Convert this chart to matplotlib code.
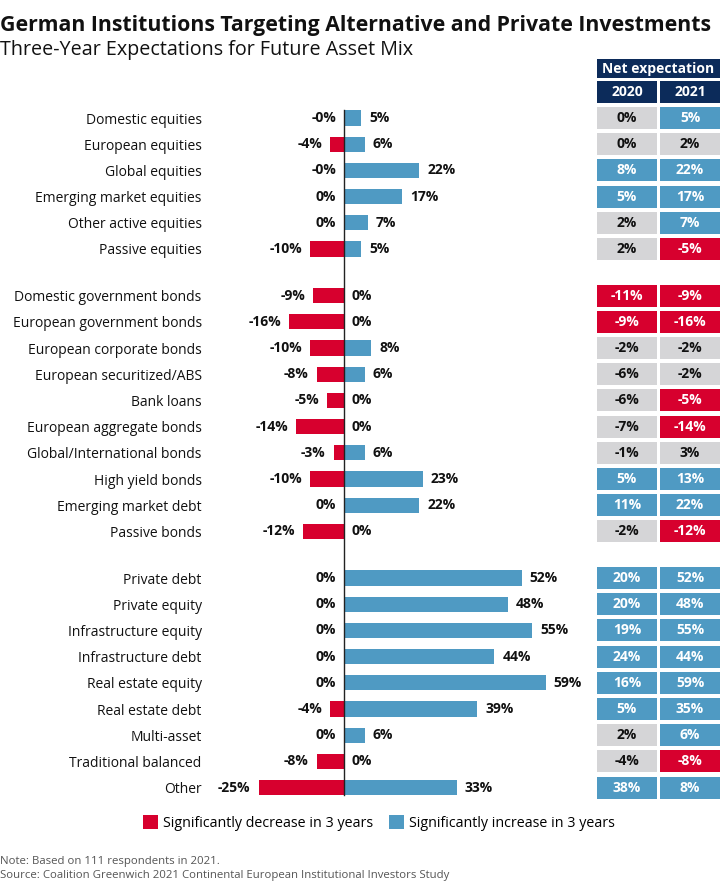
import matplotlib
matplotlib.use("Agg")
import matplotlib.pyplot as plt
from matplotlib.patches import Rectangle, Patch

plt.rcParams['font.family'] = ['Open Sans', 'DejaVu Sans']

# ---------------- data ----------------
groups = [
    ["Domestic equities", "European equities", "Global equities",
     "Emerging market equities", "Other active equities", "Passive equities"],
    ["Domestic government bonds", "European government bonds", "European corporate bonds",
     "European securitized/ABS", "Bank loans", "European aggregate bonds",
     "Global/International bonds", "High yield bonds", "Emerging market debt", "Passive bonds"],
    ["Private debt", "Private equity", "Infrastructure equity", "Infrastructure debt",
     "Real estate equity", "Real estate debt", "Multi-asset", "Traditional balanced", "Other"],
]
decrease = [-0.0, -4, -0.0, 0, 0, -10,
            -9, -16, -10, -8, -5, -14, -3, -10, 0, -12,
            0, 0, 0, 0, 0, -4, 0, -8, -25]
increase = [5, 6, 22, 17, 7, 5,
            0, 0, 8, 6, 0, 0, 6, 23, 22, 0,
            52, 48, 55, 44, 59, 39, 6, 0, 33]
net_2020 = [0, 0, 8, 5, 2, 2,
            -11, -9, -2, -6, -6, -7, -1, 5, 11, -2,
            20, 20, 19, 24, 16, 5, 2, -4, 38]
net_2021 = [5, 2, 22, 17, 7, -5,
            -9, -16, -2, -2, -5, -14, 3, 13, 22, -12,
            52, 48, 55, 44, 59, 35, 6, -8, 8]
years = ["2020", "2021"]

title = "German Institutions Targeting Alternative and Private Investments"
subtitle = "Three-Year Expectations for Future Asset Mix"
legend_labels = ["Significantly decrease in 3 years", "Significantly increase in 3 years"]
note = "Note: Based on 111 respondents in 2021."
source = "Source: Coalition Greenwich 2021 Continental European Institutional Investors Study"

# ---------------- style ----------------
RED = "#D7002E"
BLUE = "#4F9AC3"
GRAY = "#D5D5D7"
NAVY = "#0C2B5A"
W, H = 720, 892
ROW_PX = 26.2
Y0_PX = 118
GROUP_GAP = 0.78

# y positions (row units)
ypos, labels = [], []
y = 0.0
for gi, g in enumerate(groups):
    if gi > 0:
        y += GROUP_GAP
    for c in g:
        ypos.append(y)
        labels.append(c)
        y += 1
last = ypos[-1]

fig = plt.figure(figsize=(W / 100, H / 100), dpi=100)

def fy(px):
    return 1 - px / H

# ---- bar axes ----
bar_top, bar_bot = 105, 800
axb = fig.add_axes([210 / W, fy(bar_bot), (580 - 210) / W, (bar_bot - bar_top) / H])
px_per = 3.42
axb.set_xlim(-(344 - 210) / px_per, (580 - 344) / px_per)
axb.set_ylim(last + (bar_bot - (Y0_PX + last * ROW_PX)) / ROW_PX, -(Y0_PX - bar_top) / ROW_PX)
bh = 0.58
axb.barh(ypos, decrease, height=bh, color=RED, edgecolor='none')
axb.barh(ypos, increase, height=bh, color=BLUE, edgecolor='none')
axb.axvline(0, color="#222222", lw=1.0, ymin=0.007, ymax=0.993)
off = 8 / px_per
for yy, d, i in zip(ypos, decrease, increase):
    axb.text(min(d, 0) - off, yy, f"{d:.0f}%", ha='right', va='center',
             fontsize=10, fontweight='bold', color='#111111')
    axb.text(max(i, 0) + off, yy, f"{i:.0f}%", ha='left', va='center',
             fontsize=10, fontweight='bold', color='#111111')
axb.set_yticks(ypos)
axb.set_yticklabels(labels, fontsize=10, color='#111111')
axb.tick_params(axis='y', length=0, pad=6)
axb.set_xticks([])
for s in axb.spines.values():
    s.set_visible(False)

# ---- table axes ----
tab_top = 55
axt = fig.add_axes([597 / W, fy(bar_bot), (720 - 597) / W, (bar_bot - tab_top) / H])
axt.set_xlim(0, 2)
axt.set_ylim(last + (bar_bot - (Y0_PX + last * ROW_PX)) / ROW_PX, -(Y0_PX - tab_top) / ROW_PX)
axt.axis('off')
cw = 0.975
ch = 22 / ROW_PX

def cell_color(v, red_thr):
    if v >= 5:
        return BLUE, 'white'
    if v <= red_thr:
        return RED, 'white'
    return GRAY, '#111111'

for col, (vals, thr) in enumerate([(net_2020, -8), (net_2021, -5)]):
    x0 = col * (2 - cw)
    for yy, v in zip(ypos, vals):
        fc, tc = cell_color(v, thr)
        axt.add_patch(Rectangle((x0, yy - ch / 2), cw, ch, facecolor=fc, edgecolor='none'))
        axt.text(x0 + cw / 2, yy, f"{v}%", ha='center', va='center',
                 fontsize=10, fontweight='bold', color=tc)
    yh = -(Y0_PX - 92.5) / ROW_PX
    axt.add_patch(Rectangle((x0, yh - 11 / ROW_PX), cw, 22 / ROW_PX, facecolor=NAVY, edgecolor='none'))
    axt.text(x0 + cw / 2, yh, years[col], ha='center', va='center',
             fontsize=10, fontweight='bold', color='white')
yn = -(Y0_PX - 69) / ROW_PX
axt.add_patch(Rectangle((0, yn - 9.5 / ROW_PX), 2, 19 / ROW_PX, facecolor=NAVY, edgecolor='none'))
axt.text(1, yn, "Net expectation", ha='center', va='center',
         fontsize=10, fontweight='bold', color='white')

# ---- titles ----
fig.text(0 / W, fy(30.5), title, fontsize=15.3, fontweight='bold', color='#111111', va='baseline')
fig.text(0 / W, fy(55), subtitle, fontsize=14.2, color='#111111', va='baseline')

# ---- legend ----
handles = [Patch(facecolor=RED), Patch(facecolor=BLUE)]
fig.legend(handles, legend_labels, loc='center', bbox_to_anchor=(379 / W, fy(823)),
           ncol=2, frameon=False, fontsize=10.3, handlelength=1.05, handleheight=1.05,
           handletextpad=0.35, columnspacing=1.05)

# ---- footer ----
fig.text(0, fy(864), note, fontsize=8.2, color='#555555', va='baseline')
fig.text(0, fy(878), source, fontsize=8.2, color='#555555', va='baseline')

fig.savefig("out.png", dpi=100)
